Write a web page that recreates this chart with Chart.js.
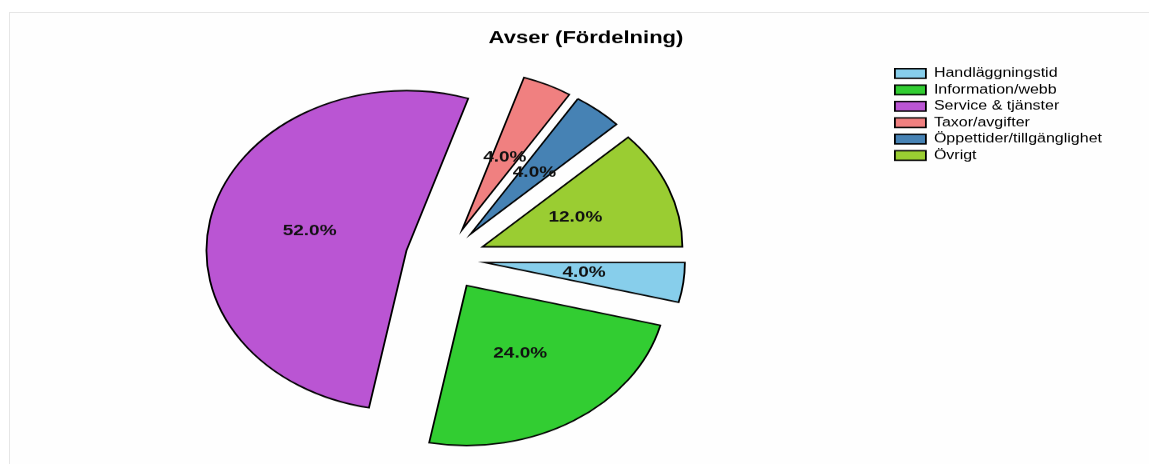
<!DOCTYPE html>
<html>
<head>
<meta charset="utf-8">
<script src="https://cdn.jsdelivr.net/npm/chart.js@4.4.0/dist/chart.umd.min.js"></script>
<style>
  html, body { margin: 0; padding: 0; background: #fff; overflow: hidden; }
  #stage { position: relative; width: 1149px; height: 464px; overflow: hidden; }
  #frame { position: absolute; left: 9px; top: 12px; width: 1160px; height: 480px;
           border-left: 1px solid #e6e6e6; border-top: 1px solid #e6e6e6; background: #fefefe; }
  #avser { position: absolute; left: 0; top: 0; transform: scaleY(0.8); transform-origin: 0 0; }
</style>
</head>
<body>
<div id="stage">
  <div id="frame"></div>
  <canvas id="avser" width="1149" height="580"></canvas>
</div>
<script>
const categories = ['Handläggningstid', 'Information/webb', 'Service & tjänster', 'Taxor/avgifter', 'Öppettider/tillgänglighet', 'Övrigt'];
const shares = [4, 24, 52, 4, 4, 12];
const sliceColors = ['#87CEEB', '#32CD32', '#BA55D3', '#F08080', '#4682B4', '#9ACD32'];
const explode = [0.2, 0.2, 0.2, 0.2, 0.2, 0.2];

const FONT = '"Liberation Sans", Arial, sans-serif';

// matplotlib style explode: push every wedge out along its middle angle
const explodePlugin = {
    id: 'explodeSlices',
    beforeDatasetsDraw(chart) {
        const area = chart.chartArea;
        const cx = (area.left + area.right) / 2;
        const cy = (area.top + area.bottom) / 2;
        chart.getDatasetMeta(0).data.forEach((arc, i) => {
            const mid = (arc.startAngle + arc.endAngle) / 2;
            const d = explode[i] * arc.outerRadius;
            arc.x = cx + Math.cos(mid) * d;
            arc.y = cy + Math.sin(mid) * d;
        });
    }
};

// autopct style labels, half way out on each wedge
const pctPlugin = {
    id: 'pctLabels',
    afterDatasetsDraw(chart) {
        const ctx = chart.ctx;
        const total = shares.reduce((a, b) => a + b, 0);
        ctx.save();
        ctx.font = `bold 19px ${FONT}`;
        ctx.fillStyle = '#111';
        ctx.textAlign = 'center';
        ctx.textBaseline = 'middle';
        chart.getDatasetMeta(0).data.forEach((arc, i) => {
            const mid = (arc.startAngle + arc.endAngle) / 2;
            const r = arc.outerRadius * 0.5;
            const pct = (shares[i] / total * 100).toFixed(1) + '%';
            ctx.fillText(pct, arc.x + Math.cos(mid) * r, arc.y + Math.sin(mid) * r);
        });
        ctx.restore();
    }
};

// title sits over the whole axes box, not over the pie
const titleNudge = {
    id: 'titleNudge',
    afterLayout(chart) {
        const t = chart.titleBlock;
        if (t) { t.left += 30; t.right += 30; }
    }
};

new Chart(document.getElementById('avser'), {
    type: 'pie',
    data: {
        labels: categories,
        datasets: [{
            data: shares,
            backgroundColor: sliceColors,
            borderColor: '#000',
            borderWidth: 1.8,
            borderJoinStyle: 'miter'
        }]
    },
    options: {
        responsive: false,
        animation: false,
        events: [],
        rotation: 90,
        radius: 200,
        layout: { padding: { top: 25, left: 0, right: 37, bottom: 13 } },
        plugins: {
            title: {
                display: true,
                text: 'Avser (Fördelning)',
                color: '#000',
                font: { family: FONT, size: 22, weight: 'bold' },
                padding: { top: 10, bottom: 18 }
            },
            legend: {
                position: 'right',
                align: 'start',
                fullSize: false,
                labels: {
                    color: '#000',
                    boxWidth: 31,
                    boxHeight: 12,
                    padding: 4.5,
                    font: { family: FONT, size: 16 }
                }
            },
            tooltip: { enabled: false }
        }
    },
    plugins: [explodePlugin, pctPlugin, titleNudge]
});
</script>
</body>
</html>
